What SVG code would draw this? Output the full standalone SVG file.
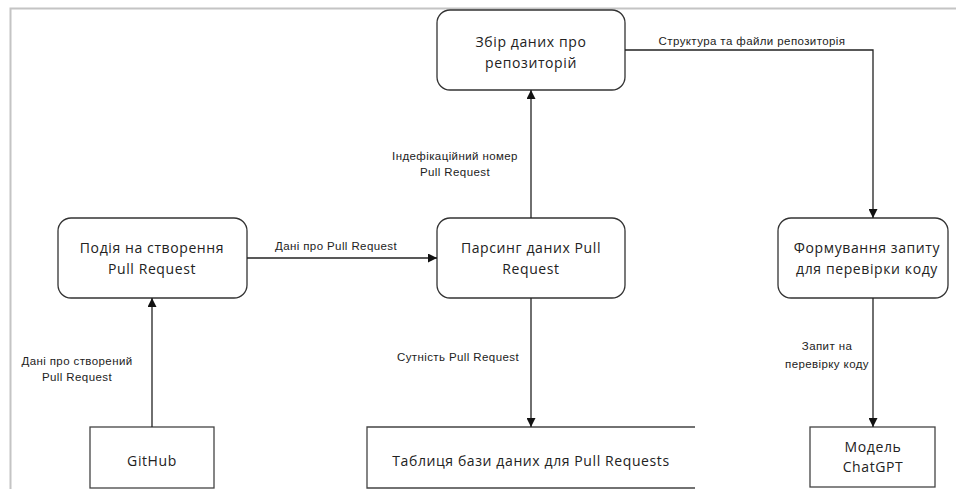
<svg xmlns="http://www.w3.org/2000/svg" width="956" height="489" viewBox="0 0 956 489">
<style>
.proc{fill:#fff;stroke:#333;stroke-width:1.3}
.ext{fill:#fff;stroke:#444;stroke-width:1.3}
.nt{font-family:"Open Sans","Liberation Sans",sans-serif;font-size:14px;letter-spacing:0.6px;fill:#222;text-anchor:middle}
.lb{font-family:"Liberation Sans",Arial,sans-serif;font-size:11.5px;letter-spacing:0.4px;fill:#222;text-anchor:middle}
.cn{fill:none;stroke:#222;stroke-width:1.3}
</style>
<defs>
<marker id="ah" viewBox="0 0 10 10" refX="10" refY="5" markerWidth="11" markerHeight="9" markerUnits="userSpaceOnUse" orient="auto">
<path d="M0,0 L10,5 L0,10 z" fill="#111"/>
</marker>
</defs>
<rect width="956" height="489" fill="#fff"/>
<path d="M10.5,489 V8.5 H956" fill="none" stroke="#c4c4c4" stroke-width="2"/>
<g id="node-zbir">
<rect class="proc" x="437" y="10" width="188" height="80" rx="13"/>
<text class="nt" x="531" y="47">Збір даних про</text>
<text class="nt" x="531" y="68">репозиторій</text>
</g>
<g id="node-podia">
<rect class="proc" x="58" y="218" width="189" height="80" rx="13"/>
<text class="nt" x="152" y="253">Подія на створення</text>
<text class="nt" x="152" y="274">Pull Request</text>
</g>
<g id="node-parsing">
<rect class="proc" x="437" y="218" width="188" height="80" rx="13"/>
<text class="nt" x="531" y="253">Парсинг даних Pull</text>
<text class="nt" x="531" y="274">Request</text>
</g>
<g id="node-formuvannia">
<rect class="proc" x="778" y="218" width="170" height="80" rx="13"/>
<text class="nt" x="867" y="253">Формування запиту</text>
<text class="nt" x="867" y="274">для перевірки коду</text>
</g>
<g id="node-github">
<rect class="ext" x="90" y="427" width="124" height="61"/>
<text class="nt" x="152" y="466">GitHub</text>
</g>
<g id="node-table">
<path class="ext" d="M695,427 H367 V488 H695" fill="#fff"/>
<text class="nt" x="531" y="466">Таблиця бази даних для Pull Requests</text>
</g>
<g id="node-chatgpt">
<rect class="ext" x="810" y="427" width="125" height="60"/>
<text class="nt" x="873" y="452">Модель</text>
<text class="nt" x="873" y="472">ChatGPT</text>
</g>
<g id="connectors">
<path class="cn" d="M625,50 H873 V218" marker-end="url(#ah)"/>
<text class="lb" x="752" y="45">Структура та файли репозиторія</text>
<path class="cn" d="M247,258 H437" marker-end="url(#ah)"/>
<text class="lb" x="336" y="250">Дані про Pull Request</text>
<path class="cn" d="M531,218 V90" marker-end="url(#ah)"/>
<text class="lb" x="455" y="160">Індефікаційний номер</text>
<text class="lb" x="455" y="176">Pull Request</text>
<path class="cn" d="M531,298 V427" marker-end="url(#ah)"/>
<text class="lb" x="458" y="361">Сутність Pull Request</text>
<path class="cn" d="M152,427 V298" marker-end="url(#ah)"/>
<text class="lb" x="77" y="365">Дані про створений</text>
<text class="lb" x="77" y="381">Pull Request</text>
<path class="cn" d="M873,298 V427" marker-end="url(#ah)"/>
<text class="lb" x="827" y="350">Запит на</text>
<text class="lb" x="827" y="368">перевірку коду</text>
</g>
</svg>
